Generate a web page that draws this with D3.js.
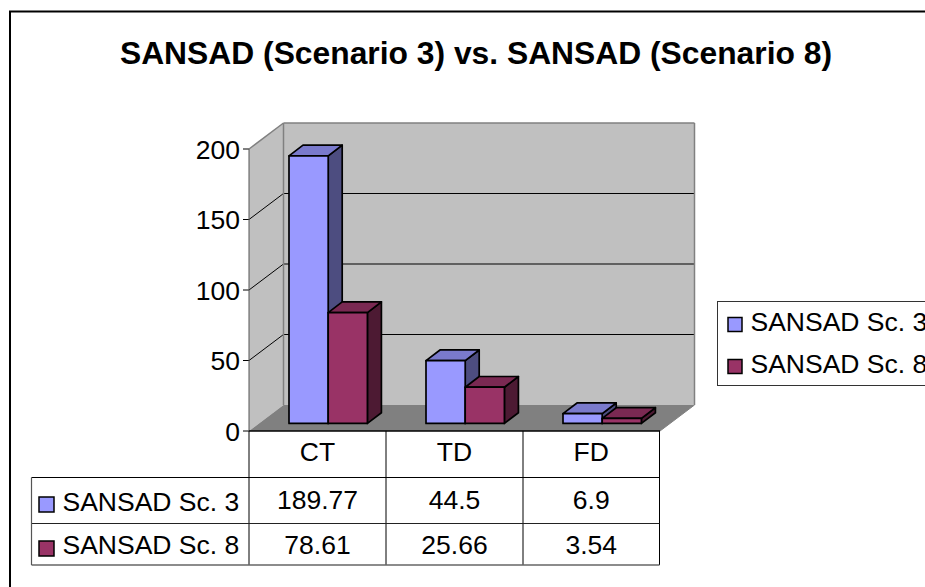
<!DOCTYPE html>
<html><head><meta charset="utf-8">
<script src="https://cdn.jsdelivr.net/npm/d3@7/dist/d3.min.js"></script>
<style>html,body{margin:0;padding:0;background:#fff;overflow:hidden}svg{display:block}text{font-family:"Liberation Sans",Arial,sans-serif;fill:#000}</style>
</head><body><svg id="c" width="925" height="587"></svg>
<script>
const title = "SANSAD (Scenario 3) vs. SANSAD (Scenario 8)";
const categories = ["CT","TD","FD"];
const seriesNames = ["SANSAD Sc. 3","SANSAD Sc. 8"];
const series3 = [189.77,44.5,6.9];
const series8 = [78.61,25.66,3.54];
const table3 = ["189.77","44.5","6.9"];
const table8 = ["78.61","25.66","3.54"];
const yTicks = [0,50,100,150,200];
const faceColors = ["#9999ff","#993366"];
const topColors = ["#7a7acc","#7a2952"];
const sideColors = ["#4d4d80","#4d1a33"];

const svg = d3.select("#c");
const FS = 26.5;
const y = d3.scaleLinear().domain([0,200]).range([431,149]);
const x = d3.scaleBand().domain(categories).range([249,660]);
const wall = {dx:34.5,dy:26};
const barInset = {dy:7.6};
const barDepth = {dx:14,dy:10.7};
const barW = 39.2, barPad = 40;
const poly = (pts,fill,stroke,sw)=>svg.append("polygon").attr("points",pts.map(p=>p.join(",")).join(" ")).attr("fill",fill).attr("stroke",stroke||"none").attr("stroke-width",sw||0).attr("stroke-linejoin","round");
const line = (a,b,c,d,col,w)=>svg.append("line").attr("x1",a).attr("y1",b).attr("x2",c).attr("y2",d).attr("stroke",col).attr("stroke-width",w);

svg.append("rect").attr("x",10).attr("y",11.5).attr("width",960).attr("height",700).attr("fill","#fff").attr("stroke","#000").attr("stroke-width",2);
svg.append("text").attr("x",476).attr("y",64).attr("text-anchor","middle").attr("font-size",31.8).attr("font-weight","bold").text(title);

const L=x.range()[0],R=x.range()[1],B=y(0),T=y(200),dx=wall.dx,dy=wall.dy;
poly([[L,T],[L+dx,T-dy],[L+dx,B-dy],[L,B]],"#c0c0c0");
poly([[L+dx,T-dy],[R+dx,T-dy],[R+dx,B-dy],[L+dx,B-dy]],"#c0c0c0");
poly([[L,B],[L+dx,B-dy],[R+dx,B-dy],[R,B]],"#808080");
yTicks.forEach(v=>{
  const p=y(v);
  if(v>0&&v<200){ line(L+dx,p-dy,R+dx,p-dy,"#000",1); line(L,p,L+dx,p-dy,"#000",1);}
  line(L-6,p,L,p,"#000",1);
  svg.append("text").attr("x",240).attr("y",p+9.5).attr("text-anchor","end").attr("font-size",FS).text(v);
});
line(L+dx,T-dy,R+dx,T-dy,"#808080",1.5);
line(L+dx,T-dy,L+dx,B-dy,"#808080",1.5);
line(L,T,L+dx,T-dy,"#808080",1.5);
line(R+dx,T-dy,R+dx,B-dy,"#808080",1.5);
line(L,T,L,B,"#555",1);
line(L,B,R,B,"#000",1.5);
line(R,B,R+dx,B-dy,"#808080",1);

const scale=v=>y(0)-y(v);
categories.forEach((c,i)=>{
  [series3,series8].forEach((s,k)=>{
    const v=s[i];
    const x0=x(c)+barPad+k*barW, x1=x0+barW;
    const yb=B-barInset.dy, yt=yb-scale(v);
    const d=barDepth;
    const w=1.7;
    poly([[x1,yb],[x1+d.dx,yb-d.dy],[x1+d.dx,yt-d.dy],[x1,yt]],sideColors[k],"#000",w);
    poly([[x0,yt],[x0+d.dx,yt-d.dy],[x1+d.dx,yt-d.dy],[x1,yt]],topColors[k],"#000",w);
    poly([[x0,yb],[x1,yb],[x1,yt],[x0,yt]],faceColors[k],"#000",w);
  });
});

// data table
const rowY=[431,477.5,523.5,565];
const colX=[31.5,249,386,523,659.5];
const tc="#000";
line(L,rowY[0],L,rowY[3],tc,1);
categories.forEach((c,i)=>{
  line(colX[i+2],rowY[0],colX[i+2],rowY[3],tc,1);
  const cx=(colX[i+1]+colX[i+2])/2;
  svg.append("text").attr("x",cx).attr("y",460.5).attr("text-anchor","middle").attr("font-size",FS).text(c);
  svg.append("text").attr("x",cx).attr("y",509).attr("text-anchor","middle").attr("font-size",FS).text(table3[i]);
  svg.append("text").attr("x",cx).attr("y",553.5).attr("text-anchor","middle").attr("font-size",FS).text(table8[i]);
});
line(colX[0],rowY[1],colX[4],rowY[1],tc,1);
line(colX[0],rowY[2],colX[4],rowY[2],"#222",1);
line(colX[0],rowY[3],colX[4],rowY[3],"#666",1.5);
line(colX[0],rowY[1],colX[0],rowY[3],"#555",1.2);
seriesNames.forEach((n,k)=>{
  svg.append("rect").attr("x",39).attr("y",[497,541][k]).attr("width",15).attr("height",15).attr("fill",faceColors[k]).attr("stroke","#000").attr("stroke-width",1.5);
  svg.append("text").attr("x",62.5).attr("y",[510.5,554][k]).attr("font-size",FS).text(n);
});

// legend (runs off the right edge, as in the reference)
svg.append("rect").attr("x",717.5).attr("y",301.5).attr("width",300).attr("height",84).attr("fill","#fff").attr("stroke","#333").attr("stroke-width",1);
seriesNames.forEach((n,k)=>{
  svg.append("rect").attr("x",728).attr("y",[317.5,359.5][k]).attr("width",14).attr("height",14).attr("fill",faceColors[k]).attr("stroke","#000").attr("stroke-width",1.5);
  svg.append("text").attr("x",750.5).attr("y",[331,372.5][k]).attr("font-size",FS).text(n);
});
</script></body></html>
